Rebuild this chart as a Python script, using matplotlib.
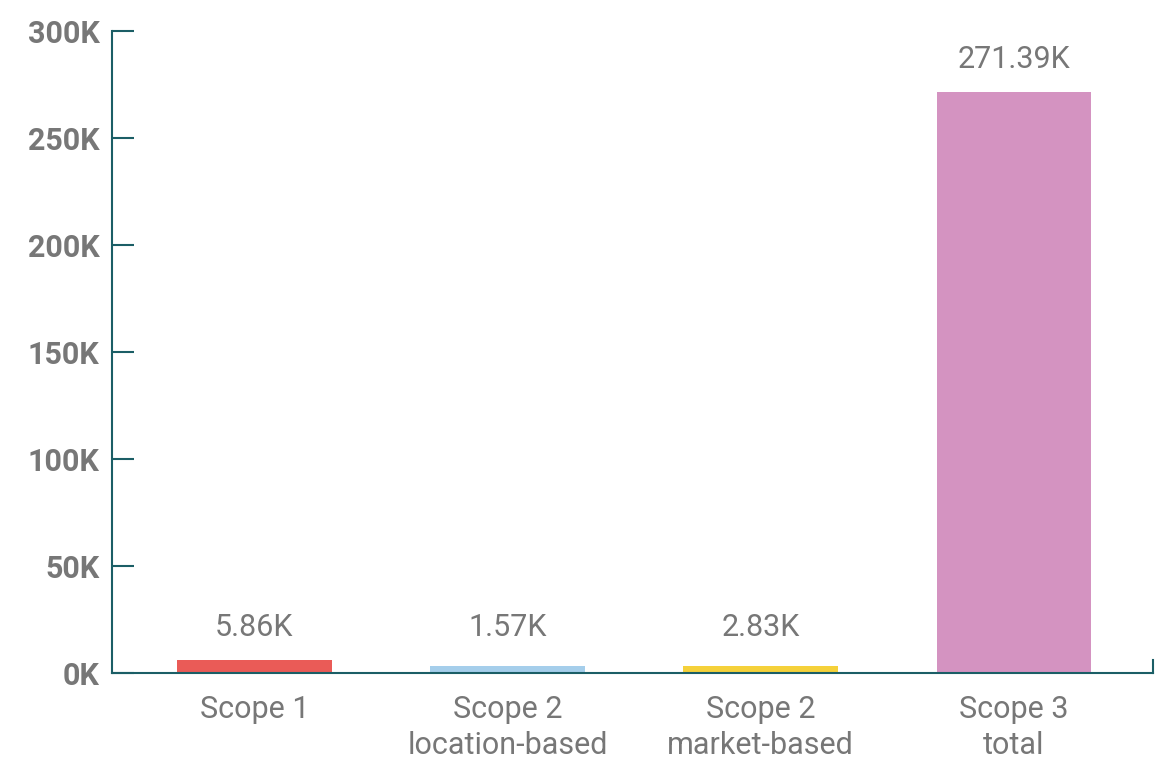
import matplotlib
matplotlib.use("Agg")
import matplotlib.pyplot as plt
from matplotlib.ticker import FuncFormatter

categories = ["Scope 1", "Scope 2\nlocation-based", "Scope 2\nmarket-based", "Scope 3\ntotal"]
values = [5860, 1570, 2830, 271390]
value_labels = ["5.86K", "1.57K", "2.83K", "271.39K"]
colors = ["#EA5B57", "#A5CEEB", "#F5D13A", "#D493C1"]
yticks = [0, 50000, 100000, 150000, 200000, 250000, 300000]

# display floors so tiny bars stay visible (as in the reference)
min_bar = 3300
min_label_base = 5860

axis_color = "#1B5E66"
text_color = "#777777"

plt.rcParams["font.family"] = ["Roboto", "DejaVu Sans"]

fig = plt.figure(figsize=(11.66, 7.61), dpi=100)
ax = fig.add_axes([112 / 1166, 1 - 673 / 761, (1153 - 112) / 1166, (673 - 31) / 761])

x = list(range(len(categories)))
heights = [max(v, min_bar) for v in values]
ax.bar(x, heights, width=0.61, color=colors, zorder=2)

for xi, v, lab in zip(x, values, value_labels):
    ax.annotate(lab, (xi, max(v, min_label_base)), xytext=(0, 13), textcoords="offset points",
                ha="center", va="bottom", fontsize=22, color=text_color)

ax.set_xlim(-0.5625, 3.55)
ax.set_ylim(0, 300000)
ax.set_yticks(yticks)
ax.yaxis.set_major_formatter(FuncFormatter(lambda v, p: f"{int(v/1000)}K"))
ax.set_xticks(x)
ax.set_xticklabels(categories, fontsize=22, color=text_color, linespacing=1.3)

for lab in ax.get_yticklabels():
    lab.set_fontweight("bold")
    lab.set_fontsize(22)
    lab.set_color(text_color)

ax.tick_params(axis="y", direction="in", length=16, width=1.5, color=axis_color, pad=9)
ax.tick_params(axis="x", length=0, pad=16)

for s in ["left", "bottom", "right"]:
    ax.spines[s].set_color(axis_color)
    ax.spines[s].set_linewidth(1.5)
ax.spines["top"].set_visible(False)
ax.spines["right"].set_bounds(0, 6000)

fig.savefig("out.png", dpi=100, facecolor="white")
